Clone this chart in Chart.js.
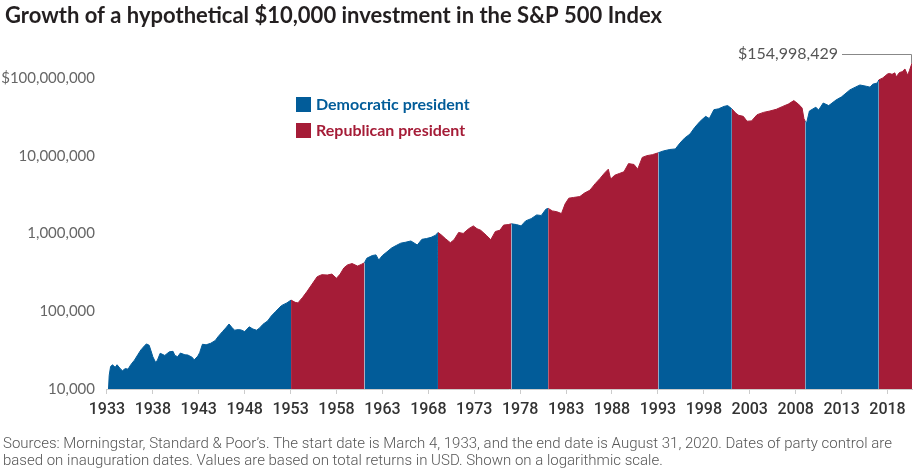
<!DOCTYPE html>
<html>
<head>
<meta charset="utf-8">
<script src="https://cdn.jsdelivr.net/npm/chart.js@4"></script>
<style>
  html, body { margin: 0; padding: 0; background: #fff; }
  #wrap { width: 916px; height: 471px; }
</style>
</head>
<body>
<div id="wrap"><canvas id="growth"></canvas></div>
<script>
// growth of $10,000 (year, value)
var years = [
  1933.17, 1933.25, 1933.4, 1933.6, 1933.9, 1934.1, 1934.5, 1934.7, 1935.0, 1935.3,
  1935.6, 1936.0, 1936.4, 1936.7, 1937.1, 1937.3, 1937.6, 1937.8, 1938.0, 1938.3,
  1938.5, 1938.8, 1939.3, 1939.8, 1940.2, 1940.4, 1940.7, 1941.0, 1941.5, 1941.8,
  1942.3, 1942.5, 1942.9, 1943.1, 1943.4, 1943.8, 1944.3, 1944.8, 1945.1, 1945.6,
  1946.0, 1946.3, 1946.6, 1946.9, 1947.3, 1947.6, 1948.0, 1948.5, 1948.9, 1949.3,
  1949.6, 1950.0, 1950.5, 1950.9, 1951.4, 1952.0, 1952.6, 1953.05, 1953.5, 1953.8,
  1954.3, 1954.8, 1955.2, 1955.9, 1956.4, 1957.0, 1957.5, 1958.0, 1958.4, 1958.8,
  1959.2, 1959.7, 1960.3, 1960.7, 1961.05, 1961.3, 1961.9, 1962.3, 1962.6, 1963.0,
  1963.5, 1964.0, 1964.5, 1965.0, 1965.5, 1966.1, 1966.8, 1967.3, 1967.8, 1968.3,
  1968.8, 1969.05, 1969.4, 1969.9, 1970.4, 1970.8, 1971.3, 1971.8, 1972.4, 1972.9,
  1973.3, 1973.7, 1974.3, 1974.8, 1975.3, 1975.8, 1976.2, 1976.7, 1977.05, 1977.6,
  1978.1, 1978.6, 1979.2, 1979.8, 1980.3, 1980.8, 1981.05, 1981.5, 1982.0, 1982.5,
  1982.9, 1983.3, 1983.8, 1984.5, 1985.0, 1985.6, 1986.2, 1986.7, 1987.2, 1987.6,
  1987.85, 1988.3, 1988.8, 1989.3, 1989.8, 1990.4, 1990.8, 1991.3, 1991.8, 1992.4,
  1993.05, 1993.6, 1994.3, 1994.9, 1995.4, 1995.9, 1996.5, 1997.0, 1997.6, 1998.2,
  1998.6, 1999.1, 1999.6, 2000.2, 2000.6, 2001.05, 2001.5, 2001.8, 2002.3, 2002.7,
  2003.2, 2003.8, 2004.5, 2005.2, 2005.9, 2006.6, 2007.2, 2007.8, 2008.3, 2008.7,
  2008.9, 2009.05, 2009.2, 2009.5, 2010.2, 2010.5, 2011.0, 2011.6, 2012.4, 2013.0,
  2013.9, 2014.5, 2015.0, 2015.7, 2016.1, 2016.4, 2016.9, 2017.05, 2017.5, 2018.0,
  2018.2, 2018.5, 2018.8, 2018.95, 2019.3, 2019.6, 2019.9, 2020.2, 2020.4, 2020.67
];
var values = [
  10000, 15000, 19400, 20500, 19000, 20500, 18000, 17200, 18300, 18000,
  20500, 23500, 28000, 31800, 36000, 38000, 36500, 31000, 26000, 22000,
  23500, 28800, 27000, 30100, 30500, 27000, 26000, 29000, 27500, 27400,
  25500, 23600, 26500, 29300, 37600, 37000, 38700, 42000, 47000, 55000,
  62000, 68500, 62000, 57000, 58000, 57500, 54700, 63000, 59000, 57000,
  60500, 68000, 75000, 86700, 100000, 118000, 128000, 139000, 130000, 128000,
  150000, 180000, 211000, 278000, 295000, 292000, 300000, 265000, 300000, 360000,
  394000, 410000, 380000, 400000, 420000, 480000, 520000, 530000, 455000, 520000,
  580000, 650000, 700000, 750000, 770000, 800000, 710000, 840000, 860000, 890000,
  950000, 1030000, 960000, 850000, 760000, 830000, 1030000, 1000000, 1150000, 1250000,
  1150000, 1100000, 950000, 830000, 1060000, 1100000, 1280000, 1300000, 1330000, 1300000,
  1250000, 1450000, 1550000, 1730000, 1700000, 2050000, 2100000, 1950000, 1900000, 1800000,
  2400000, 2840000, 2900000, 2980000, 3300000, 3600000, 4400000, 5100000, 6000000, 6700000,
  5000000, 5600000, 5900000, 6200000, 7900000, 7700000, 6700000, 9500000, 10000000, 10300000,
  10900000, 11500000, 12000000, 12200000, 14500000, 16800000, 19000000, 23000000, 27700000, 32000000,
  30000000, 39000000, 40000000, 43000000, 44000000, 40000000, 35000000, 33000000, 32000000, 27700000,
  28000000, 33600000, 36000000, 37500000, 39500000, 43000000, 46000000, 51000000, 46000000, 41000000,
  30000000, 27500000, 26500000, 37500000, 42000000, 38500000, 47500000, 44000000, 52000000, 57000000,
  70000000, 76000000, 81000000, 78000000, 76000000, 83000000, 86000000, 94000000, 100000000, 112000000,
  114000000, 111000000, 116000000, 103000000, 117000000, 120000000, 130000000, 108000000, 125000000, 154998429
];

// party control by inauguration date
var termStarts  = [1933.17, 1953.05, 1961.05, 1969.05, 1977.05, 1981.05, 1993.05, 2001.05, 2009.05, 2017.05];
var termParties = ["D", "R", "D", "R", "D", "R", "D", "R", "D", "R"];

var xTicks = [1933, 1938, 1943, 1948, 1953, 1958, 1963, 1968, 1973, 1978, 1983, 1988, 1993, 1998, 2003, 2008, 2013, 2018];
var yTicks = [10000, 100000, 1000000, 10000000, 100000000];
var yTickLabels = ["10,000", "100,000", "1,000,000", "10,000,000", "$100,000,000"];

var blue = "#025c99";
var red = "#a51c37";

function partySeries(party) {
  var pts = [];
  for (var t = 0; t < termStarts.length; t++) {
    if (termParties[t] != party) continue;
    var start = termStarts[t];
    var end = t + 1 < termStarts.length ? termStarts[t + 1] : 9999;
    if (pts.length) pts.push({x: start - 0.01, y: null});
    for (var i = 0; i < years.length; i++) {
      if (years[i] >= start && years[i] <= end) pts.push({x: years[i], y: values[i]});
    }
  }
  return pts;
}

var decor = {
  id: "decor",
  afterDraw: function(chart) {
    var ctx = chart.ctx;
    ctx.save();

    // title
    ctx.fillStyle = "#231f20";
    ctx.font = "bold 22px Lato";
    ctx.textAlign = "left";
    ctx.textBaseline = "middle";
    ctx.fillText("Growth of a hypothetical $10,000 investment in the S&P 500 Index", 5, 16);

    // legend
    chart.data.datasets.forEach(function(ds, i) {
      ctx.fillStyle = ds.backgroundColor;
      ctx.fillRect(296, 97 + i * 26, 15, 15);
      ctx.font = "bold 16px Lato";
      ctx.fillText(ds.label, 316, 105 + i * 26);
    });

    // end value callout
    var xs = chart.scales.x, ys = chart.scales.y;
    var lx = xs.getPixelForValue(years[years.length - 1]) - 1;
    var ly = ys.getPixelForValue(values[values.length - 1]);
    ctx.strokeStyle = "#888";
    ctx.lineWidth = 1;
    ctx.beginPath();
    ctx.moveTo(842, 54.5);
    ctx.lineTo(lx + 0.5, 54.5);
    ctx.lineTo(lx + 0.5, ly);
    ctx.stroke();
    ctx.fillStyle = "#555";
    ctx.font = "16px Lato";
    ctx.textAlign = "right";
    ctx.fillText("$" + values[values.length - 1].toLocaleString("en-US"), 838, 54);

    // footnote
    ctx.textAlign = "left";
    ctx.fillStyle = "#555";
    ctx.font = "300 15px Roboto";
    ctx.fillText("Sources: Morningstar, Standard & Poor\u2019s. The start date is March 4, 1933, and the end date is August 31, 2020. Dates of party control are", 3, 444, 902);
    ctx.fillText("based on inauguration dates. Values are based on total returns in USD. Shown on a logarithmic scale.", 3, 461, 902);
    ctx.restore();
  }
};

new Chart("growth", {
  type: "line",
  data: {
    datasets: [{
      label: "Democratic president",
      data: partySeries("D"),
      backgroundColor: blue,
      borderColor: blue,
      borderWidth: 1,
      fill: "start"
    }, {
      label: "Republican president",
      data: partySeries("R"),
      backgroundColor: red,
      borderColor: red,
      borderWidth: 1,
      fill: "start"
    }]
  },
  options: {
    responsive: true,
    maintainAspectRatio: false,
    animation: false,
    spanGaps: false,
    elements: { point: { radius: 0 }, line: { tension: 0 } },
    layout: { padding: { top: 62, right: 4, bottom: 50, left: 0 } },
    plugins: { legend: { display: false }, tooltip: { enabled: false } },
    scales: {
      x: {
        type: "linear",
        min: 1932.9,
        max: 2020.67,
        afterBuildTicks: function(s) { s.ticks = xTicks.map(function(v) { return {value: v}; }); },
        afterFit: function(s) { s.height = 32; },
        grid: { drawOnChartArea: false, color: "#ccc", tickLength: 5 },
        border: { color: "#ccc" },
        ticks: {
          color: "#333",
          font: { family: "Roboto", size: 16, weight: "500" },
          padding: 6,
          maxRotation: 0,
          callback: function(v) { return String(v); }
        }
      },
      y: {
        type: "logarithmic",
        min: 10000,
        max: 160000000,
        afterBuildTicks: function(s) { s.ticks = yTicks.map(function(v) { return {value: v}; }); },
        afterFit: function(s) { s.width = 106; },
        grid: { display: false, drawTicks: false },
        border: { display: false },
        ticks: {
          color: "#666",
          font: { family: "Lato", size: 15 },
          padding: 11,
          callback: function(v) { return yTickLabels[yTicks.indexOf(v)]; }
        }
      }
    }
  },
  plugins: [decor]
});
</script>
</body>
</html>
